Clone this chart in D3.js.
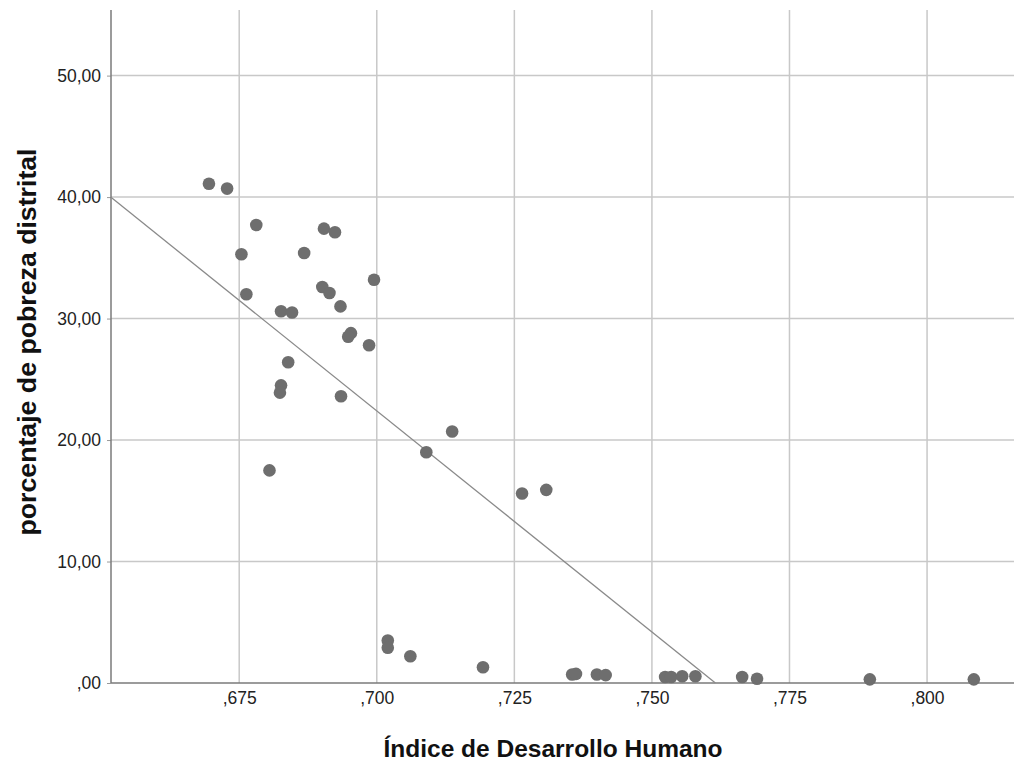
<!DOCTYPE html>
<html>
<head>
<meta charset="utf-8">
<script src="https://cdn.jsdelivr.net/npm/d3@7"></script>
<style>
  body { margin: 0; background: #fff; }
  svg { display: block; font-family: "Liberation Sans", Arial, sans-serif; }
</style>
</head>
<body>
<div id="chart"></div>
<script>
// índice de desarrollo humano (x) and porcentaje de pobreza distrital (y)
const idh = [
  0.6695, 0.6728, 0.6781, 0.6754, 0.6763, 0.6868, 0.6904, 0.6924, 0.6995,
  0.6901, 0.6914, 0.6934, 0.6826, 0.6846, 0.6953, 0.6948, 0.6986, 0.6839,
  0.6826, 0.6824, 0.6935, 0.6805, 0.7137, 0.7090, 0.7264, 0.7308,
  0.7020, 0.7020, 0.7061, 0.7193, 0.7355, 0.7362, 0.7400, 0.7416,
  0.7524, 0.7535, 0.7555, 0.7579, 0.7664, 0.7691, 0.7896, 0.8085
];
const pobreza = [
  41.1, 40.7, 37.7, 35.3, 32.0, 35.4, 37.4, 37.1, 33.2,
  32.6, 32.1, 31.0, 30.6, 30.5, 28.8, 28.5, 27.8, 26.4,
  24.5, 23.9, 23.6, 17.5, 20.7, 19.0, 15.6, 15.9,
  3.5, 2.9, 2.2, 1.3, 0.7, 0.75, 0.7, 0.65,
  0.5, 0.5, 0.55, 0.55, 0.5, 0.35, 0.3, 0.3
];
const xTicks = [0.675, 0.700, 0.725, 0.750, 0.775, 0.800];
const yTicks = [0, 10, 20, 30, 40, 50];
// fit line: intercept/slope
const fitIntercept = 277.2;
const fitSlope = -364;

const width = 1014, height = 762;
const margin = { top: 10, right: 0, bottom: 79, left: 111 };

const svg = d3.select("#chart").append("svg")
  .attr("width", width)
  .attr("height", height);

const x = d3.scaleLinear()
  .domain([0.6517, 0.8158])
  .range([margin.left, width - margin.right]);

const y = d3.scaleLinear()
  .domain([0, 55.4])
  .range([height - margin.bottom, margin.top]);

const fmt = v => (v === 0 ? ",00" : d3.format(".2f")(v).replace(".", ","));

// gridlines
svg.append("g")
  .selectAll("line")
  .data(yTicks.filter(d => d > 0))
  .enter().append("line")
  .attr("x1", margin.left).attr("x2", width - margin.right)
  .attr("y1", d => y(d)).attr("y2", d => y(d))
  .attr("stroke", "#c8c8c8").attr("stroke-width", 1.5);

svg.append("g")
  .selectAll("line")
  .data(xTicks)
  .enter().append("line")
  .attr("x1", d => x(d)).attr("x2", d => x(d))
  .attr("y1", margin.top).attr("y2", height - margin.bottom)
  .attr("stroke", "#c8c8c8").attr("stroke-width", 1.5);

// Y axis
svg.append("g")
  .attr("transform", `translate(${margin.left},0)`)
  .call(d3.axisLeft(y).tickValues(yTicks).tickSize(6).tickPadding(4).tickFormat(fmt))
  .call(g => g.select(".domain").remove())
  .call(g => g.selectAll(".tick line").attr("stroke", "#999").attr("x2", -4))
  .call(g => g.selectAll("text").attr("fill", "#222")
    .style("font-size", "17.5px")
    .style("font-family", "Liberation Sans, Arial, sans-serif"));

// X axis
svg.append("g")
  .attr("transform", `translate(0,${height - margin.bottom})`)
  .call(d3.axisBottom(x).tickValues(xTicks).tickSize(0).tickPadding(9)
    .tickFormat(d => "," + d3.format(".3f")(d).split(".")[1]))
  .call(g => g.select(".domain").remove())
  .call(g => g.selectAll("text").attr("fill", "#222")
    .style("font-size", "17.5px")
    .style("font-family", "Liberation Sans, Arial, sans-serif"));

// axis lines
svg.append("line")
  .attr("x1", margin.left).attr("x2", margin.left)
  .attr("y1", margin.top).attr("y2", height - margin.bottom)
  .attr("stroke", "#7a7a7a").attr("stroke-width", 1.5);

svg.append("line")
  .attr("x1", margin.left).attr("x2", width - margin.right)
  .attr("y1", height - margin.bottom).attr("y2", height - margin.bottom)
  .attr("stroke", "#7a7a7a").attr("stroke-width", 1.5);

// fit line, clipped at y = 0
const xStart = x.domain()[0];
const xEnd = -fitIntercept / fitSlope;
svg.append("path")
  .datum([xStart, xEnd])
  .attr("fill", "none")
  .attr("stroke", "#8a8a8a")
  .attr("stroke-width", 1.3)
  .attr("d", d3.line()
    .x(d => x(d))
    .y(d => y(fitIntercept + fitSlope * d)));

// points
svg.append("g")
  .selectAll("circle")
  .data(idh)
  .enter().append("circle")
  .attr("cx", d => x(d))
  .attr("cy", (d, i) => y(pobreza[i]))
  .attr("r", 6.3)
  .attr("fill", "#6e6e6e");

// axis titles
svg.append("text")
  .attr("x", 553).attr("y", 757)
  .attr("text-anchor", "middle")
  .style("font-size", "24.5px").attr("font-weight", "bold")
  .attr("fill", "#111")
  .text("Índice de Desarrollo Humano");

svg.append("text")
  .attr("transform", "translate(36,342) rotate(-90)")
  .attr("text-anchor", "middle")
  .style("font-size", "26.7px").attr("font-weight", "bold")
  .attr("fill", "#111")
  .text("porcentaje de pobreza distrital");
</script>
</body>
</html>
